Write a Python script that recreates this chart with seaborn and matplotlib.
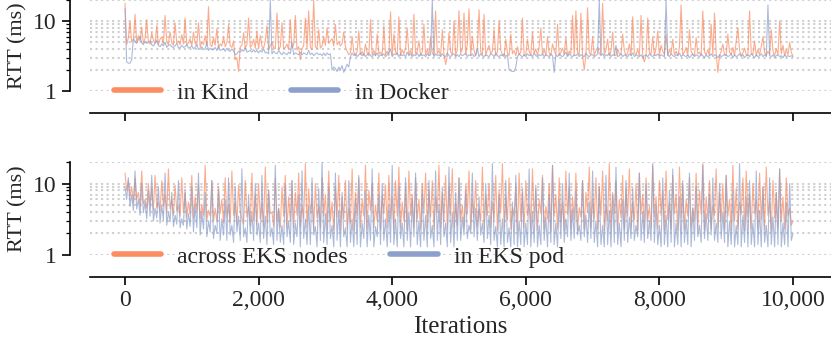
import numpy as np
import pandas as pd
import matplotlib
matplotlib.use("Agg")
import matplotlib.pyplot as plt
import seaborn as sns
from matplotlib.ticker import NullFormatter, StrMethodFormatter

# both panels are read every 25 iterations
step = 25

# RTT (ms), top panel
kind = [18, 4.6, 5.8, 9.8, 5.0, 5.4, 12.5, 4.9, 6.2, 5.2, 8.2, 4.8, 5.6, 10.5, 5.0, 4.7, 6.8, 5.3, 4.8, 8.6,
        4.6, 5.5, 5.9, 4.7, 12.0, 5.0, 4.6, 7.0, 4.9, 4.5, 9.4, 4.8, 5.2, 4.6, 6.4, 4.7, 11.0, 4.5, 4.9, 5.6,
        4.4, 7.0, 4.8, 4.5, 9.4, 4.3, 5.0, 4.6, 6.2, 4.4, 16.0, 4.6, 4.3, 5.8, 4.5, 7.8, 4.2, 4.7, 4.4, 6.0,
        4.3, 4.9, 8.8, 4.4, 4.2, 5.2, 2.8, 3.0, 1.9, 4.3, 4.5, 6.8, 4.1, 4.6, 11.0, 4.2, 4.5, 5.5, 4.1, 7.2,
        4.0, 6.2, 4.3, 4.1, 5.2, 8.5, 3.9, 4.4, 5.0, 4.2, 4.0, 13.0, 3.9, 4.3, 9.5, 4.0, 4.2, 4.7, 3.9, 10.5,
        4.1, 4.6, 12.0, 3.9, 4.3, 2.8, 4.0, 4.5, 11.0, 4.0, 14.0, 4.2, 3.9, 20, 4.3, 4.0, 7.5, 4.1, 4.4, 6.0,
        4.5, 8.0, 4.8, 5.2, 5.6, 4.4, 9.0, 4.6, 5.0, 4.4, 4.8, 7.0, 4.3, 3.7, 3.3, 3.5, 6.0, 3.6, 3.2, 3.7,
        7.2, 3.3, 3.7, 3.2, 4.7, 3.5, 3.2, 10.5, 3.3, 3.8, 3.2, 6.5, 3.4, 3.6, 3.2, 8.5, 3.3, 3.7, 3.2, 13.5,
        3.2, 6.5, 3.6, 3.3, 11.5, 3.2, 3.9, 3.4, 4.1, 8.0, 3.3, 3.8, 3.2, 12.5, 3.4, 3.7, 5.2, 3.2, 3.6, 9.0,
        3.3, 3.9, 3.2, 6.0, 3.5, 3.2, 14.0, 3.4, 3.8, 3.2, 7.5, 3.3, 2.4, 3.2, 6.8, 3.6, 3.3, 10.0, 3.2, 3.9,
        14.0, 3.5, 3.9, 13.0, 3.3, 4.7, 15.0, 3.2, 6.0, 3.8, 3.2, 4.1, 14.5, 3.6, 3.3, 12.5, 3.2, 3.9, 4.5, 3.4,
        3.7, 7.5, 3.2, 3.6, 10.0, 3.9, 3.3, 3.1, 5.5, 3.5, 3.2, 6.5, 3.4, 3.8, 3.2, 4.3, 3.3, 3.6, 11.0, 3.2,
        3.3, 5.5, 3.7, 3.2, 7.0, 3.4, 4.0, 3.2, 4.3, 8.0, 3.3, 3.9, 3.2, 6.0, 3.5, 3.2, 4.7, 3.8, 3.3, 9.0,
        3.2, 3.6, 4.1, 3.3, 5.8, 3.2, 3.7, 3.4, 12.0, 3.2, 14.0, 3.6, 3.3, 13.0, 3.2, 2.0, 3.3, 15.5, 3.5, 3.3,
        6.0, 3.2, 3.8, 4.2, 3.4, 3.3, 18.0, 3.3, 3.9, 5.5, 3.2, 3.7, 7.0, 3.3, 3.2, 4.0, 3.4, 3.3, 6.5, 3.8,
        3.2, 3.5, 4.7, 3.2, 11.5, 3.5, 3.3, 3.9, 3.2, 12.0, 3.3, 2.6, 3.2, 11.0, 3.6, 3.3, 6.0, 3.2, 4.1, 7.2,
        3.2, 4.5, 3.7, 3.3, 6.5, 3.2, 3.9, 3.4, 5.5, 3.3, 3.7, 3.2, 4.2, 17.0, 3.3, 3.6, 4.2, 3.2, 7.5, 3.7,
        3.3, 3.2, 5.8, 3.4, 3.6, 3.2, 14.0, 3.6, 3.3, 3.9, 3.2, 9.0, 3.3, 13.0, 3.4, 1.85, 3.2, 3.7, 4.7, 3.3,
        3.2, 6.5, 3.6, 3.3, 4.2, 3.2, 5.2, 8.0, 3.8, 3.2, 3.5, 4.1, 3.3, 3.2, 14.0, 3.5, 3.3, 5.2, 3.2, 3.9,
        3.3, 4.3, 6.0, 3.6, 3.2, 3.7, 3.3, 7.5, 3.7, 3.2, 4.0, 3.3, 10.0, 3.4, 4.5, 3.2, 3.9, 3.3, 5.0, 3.5, 3.2]
docker = [15, 2.6, 2.5, 2.5, 2.8, 5.6, 5.2, 4.8, 5.4, 6.0, 4.9, 4.6, 5.1, 4.8, 5.0, 5.2, 4.6, 4.4, 4.8, 5.4,
          4.5, 4.3, 4.7, 4.4, 5.0, 4.2, 4.5, 4.6, 4.3, 4.2, 4.4, 4.8, 4.2, 4.1, 4.5, 4.2, 4.3, 4.6, 4.1, 4.2,
          4.4, 4.0, 4.2, 4.6, 3.9, 4.1, 4.3, 3.9, 4.0, 5.0, 3.8, 4.1, 3.9, 3.9, 4.2, 3.8, 4.4, 3.8, 3.9, 4.0,
          3.7, 4.1, 3.8, 3.7, 4.0, 3.7, 3.3, 3.4, 3.7, 3.6, 3.9, 3.7, 4.2, 3.6, 3.7, 3.8, 3.6, 3.9, 3.6, 3.8,
          3.5, 3.8, 3.6, 4.0, 3.5, 3.6, 3.4, 20.0, 3.4, 3.7, 3.5, 3.4, 3.8, 3.5, 3.3, 3.6, 3.4, 3.3, 3.6, 3.4,
          5.0, 3.3, 3.5, 3.4, 3.3, 3.6, 3.3, 3.5, 3.4, 3.3, 3.8, 3.3, 3.5, 3.2, 3.4, 3.5, 3.3, 3.4, 3.2, 3.5,
          3.2, 3.5, 3.3, 3.4, 2.0, 2.2, 2.1, 1.9, 2.2, 2.0, 2.3, 1.85, 2.1, 2.4, 2.2, 3.1, 3.5, 3.2, 3.4, 3.1,
          3.3, 3.5, 3.2, 3.4, 3.1, 3.3, 3.5, 3.2, 3.1, 3.4, 3.2, 3.5, 3.1, 3.3, 3.2, 3.4, 3.1, 3.3, 3.5, 4.0,
          3.1, 3.4, 3.3, 3.5, 3.1, 3.4, 3.2, 3.3, 3.1, 3.6, 3.2, 3.4, 3.1, 3.3, 3.2, 3.5, 3.1, 3.4, 3.2, 3.3,
          3.1, 3.4, 3.2, 3.3, 20.0, 3.1, 3.4, 3.2, 3.3, 3.1, 3.4, 3.2, 3.1, 3.5, 3.2, 3.1, 3.3, 3.4, 3.1, 3.3,
          3.1, 3.4, 3.2, 3.3, 3.5, 3.1, 3.3, 3.2, 3.4, 3.1, 3.3, 4.0, 3.1, 3.4, 3.2, 3.1, 3.3, 3.2, 3.1, 3.4,
          3.3, 3.1, 3.5, 3.2, 3.1, 3.3, 3.2, 3.4, 3.1, 3.3, 2.0, 1.95, 1.9, 1.9, 2.2, 3.1, 3.4, 3.2, 3.1, 3.3,
          3.1, 3.4, 3.2, 3.3, 3.1, 3.5, 3.2, 3.1, 3.3, 3.2, 3.4, 3.1, 3.3, 3.2, 3.1, 3.4, 3.2, 1.85, 3.3, 3.1,
          3.4, 3.2, 3.1, 3.3, 3.6, 3.1, 3.4, 3.2, 3.1, 3.3, 3.2, 3.4, 3.1, 3.3, 3.2, 3.1, 3.5, 3.2, 3.1, 3.3,
          3.3, 3.1, 3.2, 3.4, 20.0, 3.2, 3.4, 3.1, 3.3, 3.2, 3.5, 3.1, 3.3, 3.2, 4.5, 3.1, 3.2, 3.4, 3.1, 3.3,
          3.2, 3.1, 3.4, 3.2, 3.5, 3.1, 3.3, 3.2, 3.1, 3.3, 3.0, 3.2, 3.3, 3.1, 3.4, 3.2, 3.1, 3.3, 3.2, 3.4,
          3.1, 3.3, 3.2, 3.1, 20.0, 3.3, 3.1, 3.4, 3.2, 3.1, 3.3, 3.2, 3.5, 3.1, 3.3, 3.2, 3.1, 3.3, 3.0, 3.2,
          3.4, 3.1, 3.3, 3.2, 3.1, 3.4, 3.2, 3.0, 3.3, 3.1, 3.2, 3.4, 3.1, 3.3, 3.2, 3.0, 3.3, 3.1, 3.2, 3.3,
          3.3, 3.1, 3.2, 3.4, 3.0, 3.3, 3.1, 3.2, 3.4, 3.1, 3.3, 3.0, 3.2, 3.3, 3.1, 3.4, 3.2, 3.0, 3.3, 3.1,
          3.2, 3.4, 3.1, 3.3, 3.1, 17.0, 3.2, 3.1, 3.3, 3.0, 3.2, 3.3, 3.1, 3.2, 3.0, 3.3, 3.1, 3.2, 3.1, 3.2, 3.1]

# RTT (ms), bottom panel
eks_nodes = [14, 8.0, 11, 6.5, 9.0, 5.5, 12, 6.0, 7.5, 4.8, 15, 5.2, 6.0, 4.5, 10, 5.0, 8.5, 4.2, 13, 4.6,
             5.5, 4.0, 11, 4.8, 7.0, 3.8, 16, 4.4, 6.0, 3.6, 9.5, 4.1, 4.8, 3.5, 12, 3.9, 7.5, 3.4, 5.5, 3.7,
             13, 3.3, 6.5, 4.2, 10, 3.2, 5.0, 3.6, 18, 3.1, 4.2, 3.5, 11, 3.0, 4.5, 2.9, 9.0, 3.8, 6.0, 2.8,
             12, 3.4, 5.0, 2.8, 15, 3.6, 5.5, 2.7, 9.5, 4.0, 3.2, 2.7, 11, 3.4, 4.8, 2.6, 14, 3.0, 7.0, 2.6,
             10, 3.2, 5.5, 2.5, 17, 2.8, 8.0, 3.8, 4.0, 2.5, 12, 3.0, 4.5, 2.4, 9.0, 3.5, 13, 2.4, 6.5, 3.0,
             11, 2.4, 7.5, 3.6, 14, 2.5, 5.0, 3.2, 19, 2.4, 8.5, 3.8, 6.0, 2.3, 10, 3.3, 4.8, 2.4, 12, 3.5,
             7.0, 2.3, 15, 3.0, 5.5, 2.2, 9.0, 3.4, 13, 2.2, 6.5, 3.2, 11, 2.3, 4.5, 2.8, 16, 2.2, 7.5, 3.6,
             12, 2.4, 6.0, 3.5, 18, 2.3, 8.0, 4.2, 10, 2.4, 5.0, 3.0, 14, 2.3, 7.0, 3.8, 9.5, 2.4, 13, 3.2,
             6.5, 2.3, 11, 3.5, 17, 2.4, 5.5, 3.0, 9.0, 2.2, 15, 3.6, 7.0, 2.4, 12, 3.2, 6.0, 2.3, 10, 3.8,
             14, 2.4, 8.0, 3.4, 11, 2.3, 6.5, 3.9, 18, 2.4, 7.5, 3.0, 13, 2.3, 9.0, 3.6, 16, 2.4, 5.5, 2.6,
             12, 3.1, 5.0, 2.4, 9.5, 3.7, 15, 2.3, 6.0, 3.4, 11, 2.5, 4.4, 3.0, 17, 2.3, 7.0, 3.6, 10, 2.4,
             5.5, 3.2, 13, 2.2, 8.0, 3.9, 19, 2.4, 6.5, 3.1, 12, 2.3, 4.6, 3.5, 9.0, 2.2, 14, 3.0, 7.5, 2.4,
             11, 3.6, 5.2, 2.3, 16, 3.0, 8.5, 2.2, 6.0, 3.8, 13, 2.3, 4.8, 3.2, 10, 2.1, 18, 3.5, 7.0, 2.3,
             12, 2.9, 5.5, 2.2, 15, 3.7, 9.0, 2.3, 6.5, 3.1, 14, 2.2, 4.6, 3.4, 11, 2.3, 7.5, 3.9, 17, 2.4,
             6.0, 3.2, 12, 2.3, 9.0, 3.6, 15, 2.2, 5.0, 3.0, 19, 2.3, 7.5, 3.8, 11, 2.2, 6.0, 3.3, 13, 2.3,
             8.5, 3.5, 16, 2.4, 5.5, 3.1, 10, 2.2, 14, 3.7, 7.0, 2.3, 12, 3.0, 4.8, 2.4, 18, 3.4, 6.5, 2.3,
             11, 3.6, 8.0, 2.2, 15, 3.1, 5.5, 2.3, 13, 3.8, 7.0, 2.2, 17, 3.3, 9.5, 2.3, 6.0, 3.5, 12, 2.4,
             4.6, 3.0, 14, 2.3, 8.0, 3.7, 19, 2.2, 6.5, 3.2, 11, 2.3, 5.0, 3.6, 16, 2.4, 7.5, 3.1, 10, 2.3,
             13, 3.5, 6.0, 2.2, 18, 3.0, 8.5, 2.3, 5.5, 3.7, 12, 2.2, 15, 3.4, 7.0, 2.3, 10, 3.8, 6.0, 2.4,
             14, 3.1, 9.0, 2.3, 17, 3.6, 5.5, 2.2, 11, 3.3, 7.5, 2.4, 16, 3.0, 6.5, 2.3, 12, 3.5, 4.5, 2.6, 3.0]
eks_pod = [9.0, 6.0, 12, 4.8, 7.0, 4.2, 15, 4.4, 6.0, 3.6, 10, 3.9, 5.5, 3.2, 8.0, 3.5, 13, 3.0, 4.5, 3.3,
           9.0, 2.8, 5.0, 3.1, 14, 2.6, 4.0, 2.9, 7.5, 2.5, 3.6, 2.7, 11, 2.4, 3.2, 2.6, 8.0, 2.3, 3.8, 2.5,
           9.0, 2.1, 5.0, 2.4, 14, 1.9, 4.0, 2.3, 7.5, 1.8, 3.0, 2.1, 11, 1.7, 2.6, 2.0, 8.0, 1.6, 3.2, 1.9,
           6.0, 1.6, 12, 1.9, 2.6, 1.5, 9.0, 2.1, 3.5, 1.6, 16, 1.8, 2.4, 1.5, 7.0, 2.0, 4.0, 1.6, 10, 1.9,
           2.8, 1.5, 13, 1.7, 3.5, 1.4, 8.0, 1.8, 2.4, 1.4, 18, 1.6, 4.5, 1.5, 2.6, 1.4, 9.5, 1.8, 3.0, 1.5,
           11, 1.4, 2.8, 1.8, 7.0, 1.3, 15, 1.7, 3.2, 1.4, 5.0, 1.4, 12, 1.9, 2.5, 1.3, 8.5, 1.6, 20, 1.5,
           3.8, 1.4, 9.0, 1.7, 2.6, 1.3, 14, 1.6, 4.2, 1.3, 7.5, 1.8, 2.4, 1.3, 11, 1.5, 3.2, 1.3, 6.0, 1.4,
           13, 1.3, 2.8, 1.7, 8.0, 1.3, 3.6, 1.6, 16, 1.3, 2.5, 1.8, 7.0, 1.4, 10, 1.6, 3.2, 1.3, 5.0, 1.5,
           18, 1.4, 3.2, 1.3, 9.0, 1.7, 2.8, 1.3, 12, 1.6, 4.0, 1.3, 6.0, 1.8, 14, 1.4, 3.0, 1.3, 8.0, 1.6,
           3.6, 1.3, 11, 1.7, 2.6, 1.3, 15, 1.6, 5.0, 1.4, 9.0, 1.8, 2.8, 1.3, 17, 1.5, 4.0, 1.3, 7.5, 1.6,
           12, 1.6, 3.4, 1.9, 8.0, 1.7, 2.6, 2.0, 14, 1.8, 4.5, 1.6, 6.5, 1.9, 2.8, 1.5, 10, 1.7, 3.6, 1.4,
           19, 1.6, 2.5, 1.3, 7.0, 1.4, 3.2, 1.3, 11, 1.5, 2.4, 1.3, 5.5, 1.4, 13, 1.3, 3.0, 1.4, 8.5, 1.3,
           2.8, 1.4, 16, 1.3, 4.0, 1.5, 9.5, 1.3, 2.6, 1.4, 12, 1.6, 3.4, 1.3, 7.0, 1.5, 18, 1.4, 2.8, 1.3,
           6.0, 1.7, 10, 1.5, 3.2, 1.8, 14, 1.6, 4.4, 1.7, 8.0, 1.9, 2.6, 1.6, 11, 1.8, 3.6, 1.5, 5.5, 1.7,
           15, 1.5, 3.0, 1.3, 9.0, 1.4, 2.6, 1.3, 13, 1.4, 4.2, 1.3, 7.0, 1.5, 17, 1.4, 2.8, 1.3, 6.0, 1.6,
           11, 1.5, 3.4, 1.7, 8.5, 1.6, 2.6, 1.8, 14, 1.6, 4.0, 1.5, 10, 1.7, 3.0, 1.6, 19, 1.5, 5.0, 1.4,
           2.6, 1.3, 12, 1.4, 3.6, 1.3, 8.0, 1.5, 16, 1.3, 2.8, 1.4, 6.5, 1.3, 11, 1.5, 3.2, 1.4, 14, 1.3,
           4.5, 1.6, 9.0, 1.8, 2.6, 1.5, 18, 1.7, 3.8, 1.6, 7.0, 1.9, 12, 1.6, 2.8, 1.5, 10, 1.7, 4.0, 1.5,
           13, 1.3, 3.0, 1.4, 8.0, 1.3, 2.6, 1.4, 19, 1.3, 3.6, 1.5, 6.5, 1.3, 11, 1.4, 2.8, 1.3, 15, 1.4,
           4.2, 1.3, 9.0, 1.5, 2.6, 1.3, 12, 1.4, 3.4, 1.3, 7.5, 1.4, 16, 1.3, 2.8, 1.4, 5.5, 1.3, 10, 1.6, 2.0]

orange = "#fc8d62"
blue = "#8da0cb"

sns.set_theme(style="ticks")
plt.rcParams['font.family'] = ['Liberation Serif', 'DejaVu Serif']

fig = plt.figure(figsize=(8.31, 3.5), dpi=100)
ax1 = fig.add_axes([90/831, 1 - 91/350, 741/831, 91/350])
ax2 = fig.add_axes([90/831, 1 - 255/350, 741/831, 93/350], sharex=ax1)

panels = [
    (ax1, kind, docker, "in Kind", "in Docker", 0.8),
    (ax2, eks_nodes, eks_pod, "across EKS nodes", "in EKS pod", 0.8),
]

for ax, s1, s2, l1, l2, lw in panels:
    x1 = list(np.arange(len(s1)) * step)
    x2 = list(np.arange(len(s2)) * step)
    df = pd.DataFrame({
        "Iterations": x1 + x2,
        "RTT": s1 + s2,
        "env": [l1] * len(s1) + [l2] * len(s2),
    })
    ax.set_yscale("log")
    sns.lineplot(data=df, x="Iterations", y="RTT", hue="env",
                 palette=[orange, blue], linewidth=lw, alpha=0.72, ax=ax)
    ax.set_ylim(1, 20)
    ax.set_xlim(-524, 10569)
    ax.set_yticks([1, 10])
    ax.set_yticklabels(["1", "10"])
    ax.yaxis.set_minor_formatter(NullFormatter())
    ax.grid(True, which="both", axis="y", linestyle=":", color="#cfcfcf", linewidth=1.5)
    ax.set_ylabel("RTT (ms)", fontsize=16)
    ax.set_xlabel("")
    ax.set_xticks([0, 2000, 4000, 6000, 8000, 10000])
    ax.xaxis.set_major_formatter(StrMethodFormatter("{x:,.0f}"))
    ax.tick_params(axis="both", which="major", labelsize=17, length=6, width=1.2, color="black")
    ax.tick_params(axis="y", which="minor", length=3, width=0.9, color="black")
    for side in ["top", "right"]:
        ax.spines[side].set_visible(False)
    ax.spines["left"].set_position(("outward", 14.4))
    ax.spines["bottom"].set_position(("outward", 15.5))
    for side in ["left", "bottom"]:
        ax.spines[side].set_linewidth(1.2)
        ax.spines[side].set_color("black")

    handles, labels = ax.get_legend_handles_labels()
    leg = ax.legend(handles, labels, loc="center left", bbox_to_anchor=(0.019, -0.02),
                    ncol=2, frameon=False, fontsize=17, handlelength=2.0,
                    handletextpad=0.7, columnspacing=1.8, borderaxespad=0)
    for line in leg.get_lines():
        line.set_linewidth(4)
        line.set_alpha(1)

ax1.tick_params(axis="x", labelbottom=False)
ax2.set_xlabel("Iterations", fontsize=18)

fig.savefig("out.png", dpi=100)
